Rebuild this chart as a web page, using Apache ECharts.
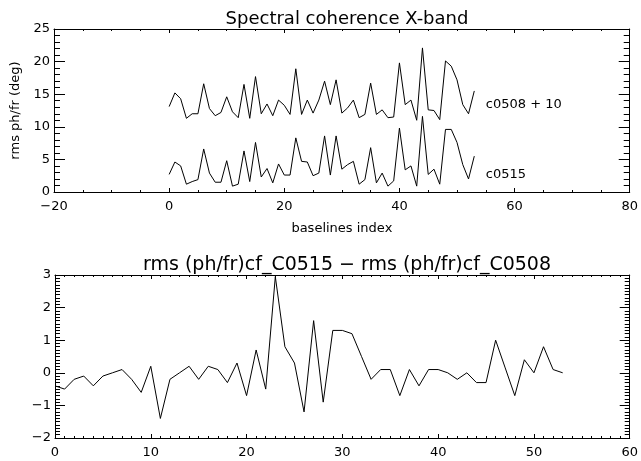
<!DOCTYPE html>
<html>
<head>
<meta charset="utf-8">
<script src="https://cdn.jsdelivr.net/npm/echarts@6/dist/echarts.min.js"></script>
<style>
  html, body { margin: 0; padding: 0; background: #fff; }
  #chart { width: 641px; height: 461px; }
</style>
</head>
<body>
<div id="chart"></div>
<script>
// Baseline indices shared by every series
const baselines = [0,1,2,3,4,5,6,7,8,9,10,11,12,13,14,15,16,17,18,19,20,21,22,23,24,25,26,
  27,28,29,30,31,32,33,34,35,36,37,38,39,40,41,42,43,44,45,46,47,48,49,50,51,52,53];

// rms ph/fr (deg) for session c0508, shifted up by 10 deg
const c0508Plus10 = [13.1,15.2,14.3,11.3,12.0,12.0,16.6,12.8,11.7,12.2,14.6,12.3,11.4,16.5,11.3,17.7,
  12.0,13.5,11.7,14.1,13.3,11.9,18.9,11.9,14.1,12.1,14.1,17.0,13.4,17.2,12.1,12.9,14.1,11.4,11.9,16.7,
  11.9,12.6,11.4,11.5,19.8,13.4,14.1,11.0,22.1,12.6,12.5,11.1,20.1,19.3,17.2,13.4,12.0,15.5];

// rms ph/fr (deg) for session c0515
const c0515 = [2.7,4.6,4.0,1.2,1.6,1.9,6.6,2.9,1.5,1.5,4.8,0.9,1.2,6.3,1.6,7.6,2.3,3.6,1.4,4.3,2.6,2.6,
  8.3,4.7,4.6,2.5,2.9,8.6,2.6,8.6,3.5,4.2,4.7,1.2,1.9,6.8,1.4,2.9,0.9,1.7,9.8,3.4,4.0,0.9,11.6,2.7,
  3.5,1.2,9.6,9.6,7.6,4.2,2.0,5.5];

// rms (ph/fr) difference C0515 - C0508
const rmsDiff = [-0.4,-0.5,-0.2,-0.1,-0.4,-0.1,0.0,0.1,-0.2,-0.6,0.2,-1.4,-0.2,0.0,0.2,-0.2,0.2,0.1,
  -0.3,0.3,-0.7,0.7,-0.5,2.95,0.8,0.3,-1.2,1.6,-0.9,1.3,1.3,1.2,0.5,-0.2,0.1,0.1,-0.7,0.1,-0.4,0.1,
  0.1,0.0,-0.2,0.0,-0.3,-0.3,1.0,0.15,-0.7,0.4,0.0,0.8,0.1,0.0];

// Series annotations (text, x, y in data units)
const seriesNotes = [
  { text: 'c0508 + 10', x: 55, y: 13.4 },
  { text: 'c0515', x: 55, y: 2.7 }
];

const FONT = 'DejaVu Sans';
const LABEL_SIZE = 13;
const minus = v => String(v).replace('-', '\u2212');
const pairs = ys => baselines.map((b, i) => [b, ys[i]]);

function xAxisPair(grid, min, max, interval, minorSplit, len, minorLen) {
  const common = {
    type: 'value', gridIndex: grid, min, max, interval,
    splitLine: { show: false },
    axisLine: { show: true, onZero: false, lineStyle: { color: '#000', width: 1 } },
    axisTick: { show: true, inside: true, length: len, lineStyle: { color: '#000' } },
    minorTick: { show: true, splitNumber: minorSplit, length: minorLen, lineStyle: { color: '#000' } }
  };
  return [
    Object.assign({}, common, {
      position: 'bottom',
      axisLabel: { color: '#000', fontFamily: FONT, fontSize: LABEL_SIZE, margin: 8, formatter: minus }
    }),
    Object.assign({}, common, { position: 'top', axisLabel: { show: false } })
  ];
}

function yAxisPair(grid, min, max, interval, minorSplit, len, minorLen) {
  const common = {
    type: 'value', gridIndex: grid, min, max, interval,
    splitLine: { show: false },
    axisLine: { show: true, onZero: false, lineStyle: { color: '#000', width: 1 } },
    axisTick: { show: true, inside: true, length: len, lineStyle: { color: '#000' } },
    minorTick: { show: true, splitNumber: minorSplit, length: minorLen, lineStyle: { color: '#000' } }
  };
  return [
    Object.assign({}, common, {
      position: 'left',
      axisLabel: { color: '#000', fontFamily: FONT, fontSize: LABEL_SIZE, margin: 4, formatter: minus }
    }),
    Object.assign({}, common, { position: 'right', axisLabel: { show: false } })
  ];
}

const topX = xAxisPair(0, -20, 80, 20, 4, 4, 2);
topX[0].name = 'baselines index';
topX[0].nameLocation = 'middle';
topX[0].nameGap = 30;
topX[0].nameTextStyle = { color: '#000', fontFamily: FONT, fontSize: LABEL_SIZE };

const topY = yAxisPair(0, 0, 25, 5, 5, 11, 6);
topY[0].name = 'rms ph/fr (deg)';
topY[0].nameLocation = 'middle';
topY[0].nameGap = 29;
topY[0].nameTextStyle = { color: '#000', fontFamily: FONT, fontSize: LABEL_SIZE };

const bottomX = xAxisPair(1, 0, 60, 10, 10, 4, 2);
const bottomY = yAxisPair(1, -2, 3, 1, 10, 10, 5);

const lineStyle = { color: '#000', width: 1 };
const noteLabel = {
  show: true, position: 'inside', align: 'left', verticalAlign: 'middle',
  color: '#000', fontFamily: FONT, fontSize: LABEL_SIZE, formatter: p => p.name
};

const option = {
  backgroundColor: '#fff',
  animation: false,
  title: [
    { text: 'Spectral coherence X-band', left: 342, top: 5, textAlign: 'center',
      textStyle: { fontFamily: FONT, fontSize: 18, fontWeight: 'normal', color: '#000' } },
    { text: 'rms (ph/fr)cf_C0515 \u2212 rms (ph/fr)cf_C0508', left: 342, top: 251, textAlign: 'center',
      textStyle: { fontFamily: FONT, fontSize: 19, fontWeight: 'normal', color: '#000' } }
  ],
  grid: [
    { left: 54, top: 29, width: 577, height: 163 },
    { left: 55, top: 275, width: 576, height: 163 }
  ],
  xAxis: [topX[0], topX[1], bottomX[0], bottomX[1]],
  yAxis: [topY[0], topY[1], bottomY[0], bottomY[1]],
  series: [
    {
      type: 'line', xAxisIndex: 0, yAxisIndex: 0, data: pairs(c0508Plus10),
      showSymbol: false, symbol: 'none', lineStyle,
      markPoint: {
        symbol: 'circle', symbolSize: 0, label: noteLabel,
        data: [{ name: seriesNotes[0].text, coord: [seriesNotes[0].x, seriesNotes[0].y] }]
      }
    },
    {
      type: 'line', xAxisIndex: 0, yAxisIndex: 0, data: pairs(c0515),
      showSymbol: false, symbol: 'none', lineStyle,
      markPoint: {
        symbol: 'circle', symbolSize: 0, label: noteLabel,
        data: [{ name: seriesNotes[1].text, coord: [seriesNotes[1].x, seriesNotes[1].y] }]
      }
    },
    {
      type: 'line', xAxisIndex: 2, yAxisIndex: 2, data: pairs(rmsDiff),
      showSymbol: false, symbol: 'none', lineStyle
    }
  ]
};

const chart = echarts.init(document.getElementById('chart'), null, { renderer: 'canvas' });
chart.setOption(option);
</script>
</body>
</html>
